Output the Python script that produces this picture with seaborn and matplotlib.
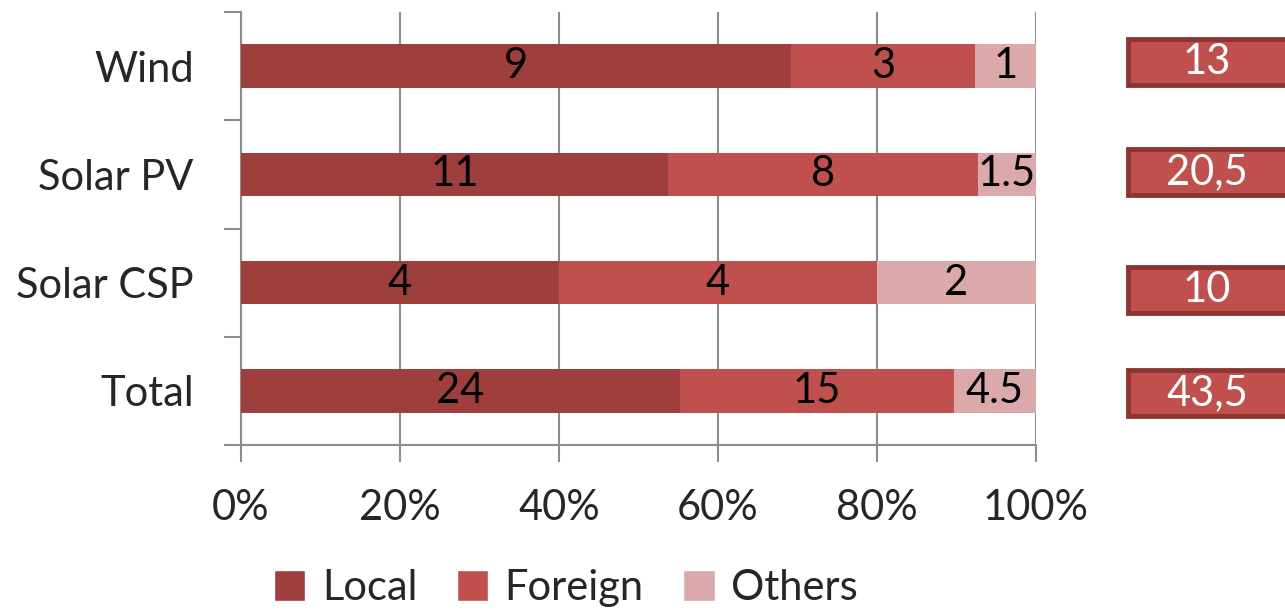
import matplotlib
matplotlib.use("Agg")
import matplotlib.pyplot as plt
import seaborn as sns
import pandas as pd
import numpy as np
from matplotlib.patches import Rectangle, Patch

categories = ["Wind", "Solar PV", "Solar CSP", "Total"]
local = [9, 11, 4, 24]
foreign = [3, 8, 4, 15]
others = [1, 1.5, 2, 4.5]
local_labels = ["9", "11", "4", "24"]
foreign_labels = ["3", "8", "4", "15"]
others_labels = ["1", "1.5", "2", "4.5"]
total_labels = ["13", "20,5", "10", "43,5"]
xtick_labels = ["0%", "20%", "40%", "60%", "80%", "100%"]

C_LOCAL = "#9E3F3E"
C_FOREIGN = "#C0504D"
C_OTHERS = "#DBA9A9"
GRID = "#8C8C8C"

sns.set_style("white")
plt.rcParams["font.family"] = ["Lato", "DejaVu Sans"]
FS = 30

tot = np.array(local) + np.array(foreign) + np.array(others)
p_local = np.array(local) / tot * 100
p_foreign = np.array(foreign) / tot * 100
p_others = np.array(others) / tot * 100

df = pd.DataFrame({
    "cat": categories,
    "c3": p_local + p_foreign + p_others,
    "c2": p_local + p_foreign,
    "c1": p_local,
})

fig = plt.figure(figsize=(12.85, 6.10), dpi=100)
ax = fig.add_axes([241/1285, 1-445/610, (1036-241)/1285, (445-12)/610])

for col, c in [("c3", C_OTHERS), ("c2", C_FOREIGN), ("c1", C_LOCAL)]:
    sns.barplot(data=df, x=col, y="cat", orient="h", color=c, width=0.4,
                saturation=1, ax=ax, linewidth=0, zorder=3)

# segment labels
for i in range(len(categories)):
    segs = [(0, p_local[i], local_labels[i]),
            (p_local[i], p_foreign[i], foreign_labels[i]),
            (p_local[i] + p_foreign[i], p_others[i], others_labels[i])]
    for start, w, lab in segs:
        ax.text(start + w/2, i, lab, ha="center", va="center", fontsize=FS,
                color="black", zorder=5)

ax.set_xlim(0, 100)
ax.set_ylim(3.5, -0.5)
ax.set_xticks(np.arange(0, 101, 20))
ax.set_xticklabels(xtick_labels, fontsize=FS)
ax.set_yticks(range(len(categories)))
ax.set_yticklabels(categories, fontsize=FS)
ax.set_xlabel("")
ax.set_ylabel("")
ax.grid(axis="x", color=GRID, linewidth=1.5, zorder=0)
ax.set_axisbelow(True)

# y ticks at category boundaries
ax.set_yticks(np.arange(-0.5, 4.0, 1.0), minor=True)
ax.tick_params(axis="y", which="major", length=0, pad=34)
ax.tick_params(axis="y", which="minor", length=12, width=1.5, color=GRID, direction="out", left=True)
ax.tick_params(axis="x", which="major", length=12, width=1.5, color=GRID, direction="out", bottom=True, pad=20)

for s in ["top", "right"]:
    ax.spines[s].set_visible(False)
for s in ["left", "bottom"]:
    ax.spines[s].set_color(GRID)
    ax.spines[s].set_linewidth(1.5)

# total boxes on the right
box_centers = [62, 172, 290, 393]
for lab, yc in zip(total_labels, box_centers):
    h = 46
    fig.patches.append(Rectangle((1128/1285, 1-(yc+h/2)/610), 170/1285, h/610,
                                 transform=fig.transFigure, facecolor=C_FOREIGN,
                                 edgecolor="#8C3533", linewidth=3.5, zorder=5))
    fig.text(1207/1285, 1-yc/610, lab, ha="center", va="center", fontsize=FS,
             color="white", zorder=6)

handles = [Patch(facecolor=C_LOCAL, label="Local"),
           Patch(facecolor=C_FOREIGN, label="Foreign"),
           Patch(facecolor=C_OTHERS, label="Others")]
fig.legend(handles=handles, loc="center", bbox_to_anchor=(566/1285, 1-588/610),
           ncol=3, frameon=False, fontsize=FS, handlelength=0.75, handleheight=0.75,
           handletextpad=0.4, columnspacing=0.95)

fig.savefig("out.png", dpi=100)
